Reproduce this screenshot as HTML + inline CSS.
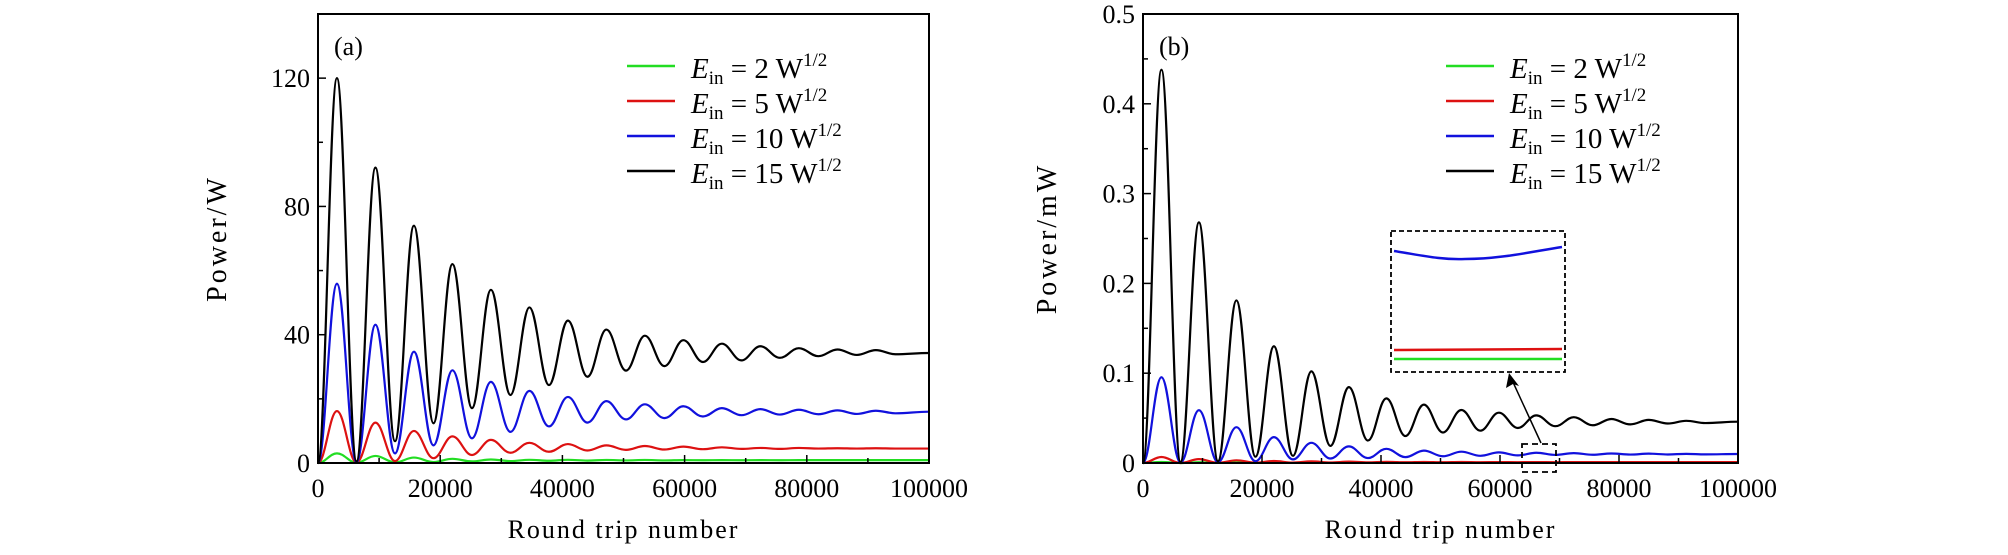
<!DOCTYPE html>
<html><head><meta charset="utf-8"><style>
html,body{margin:0;padding:0;background:#fff}
svg{display:block}
text{font-family:"Liberation Serif",serif;fill:#000}
</style></head><body>
<svg id="svg" width="2008" height="555" viewBox="0 0 2008 555" xmlns="http://www.w3.org/2000/svg"></svg>
<script>
// ---- shared x positions of extrema (round trip number) ----
const peakX = [3100,9400,15700,22000,28300,34600,40900,47200,53500,59800,66100,72400,78700,85000,91300];
const troughX = [6300,12600,18900,25200,31500,37800,44100,50400,56700,63000,69300,75600,81900,88200,94500];
const seriesNames = ["E2","E5","E10","E15"];
const seriesColors = ["#22dd22","#dd1111","#1111dd","#000000"];
const legendValues = ["2","5","10","15"];
// ---- panel (a) values in W ----
const aPeak15 = [120,92.1,74,62,54,48.5,44.4,41.6,39.7,38.3,37.2,36.4,35.8,35.4,35.2];
const aTrough15 = [0.5,6.8,12.4,17.1,21.2,24.3,26.9,28.8,30.2,31.5,32,32.8,33.3,33.7,33.9];
const aPeak10 = [55.9,43.1,34.7,28.9,25.3,22.5,20.6,19.3,18.3,17.7,17.1,16.8,16.6,16.4,16.3];
const aTrough10 = [0.2,3,5.5,7.7,9.7,11.4,12.6,13.6,14,14.5,14.9,15.1,15.2,15.3,15.5];
const aPeak5 = [16.2,12.6,10,8.3,7.2,6.3,5.9,5.5,5.3,5.1,4.9,4.7,4.7,4.6,4.6];
const aTrough5 = [0.2,0.6,1.5,2.5,3.2,3.5,3.9,4.1,4.2,4.3,4.4,4.4,4.5,4.5,4.5];
const aPeak2 = [3,2.2,1.7,1.3,1.1,1,1,0.95,0.95,0.9,0.9,0.9,0.9,0.9,0.9];
const aTrough2 = [0.1,0.2,0.3,0.5,0.6,0.7,0.75,0.8,0.8,0.85,0.85,0.85,0.9,0.9,0.9];
const aEnd = [0.9,4.5,16,34.3];
// ---- panel (b) values in mW ----
const bPeak15 = [0.438,0.268,0.181,0.130,0.102,0.0845,0.072,0.065,0.059,0.056,0.053,0.051,0.049,0.048,0.047];
const bTrough15 = [0.001,0.002,0.007,0.008,0.019,0.025,0.030,0.034,0.036,0.039,0.041,0.042,0.043,0.044,0.0445];
const bPeak10 = [0.0955,0.0588,0.0399,0.0288,0.0225,0.0185,0.0158,0.0138,0.0126,0.0118,0.0114,0.011,0.0106,0.0104,0.0102];
const bTrough10 = [0.0005,0.001,0.002,0.004,0.005,0.0055,0.0065,0.0075,0.008,0.0085,0.009,0.0092,0.0094,0.0095,0.0096];
const bPeak5 = [0.0067,0.0043,0.003,0.0022,0.0018,0.0015,0.0013,0.0012,0.0011,0.001,0.001,0.001,0.001,0.001,0.001];
const bTrough5 = [0,0.0002,0.0004,0.0005,0.0006,0.0007,0.0008,0.0008,0.0009,0.0009,0.0009,0.001,0.001,0.001,0.001];
const bPeak2 = [0.0012,0.0008,0.0006,0.0005,0.0004,0.0004,0.0003,0.0003,0.0003,0.0003,0.0003,0.0003,0.0003,0.0003,0.0003];
const bTrough2 = [0,0.0001,0.0001,0.0002,0.0002,0.0002,0.0002,0.0003,0.0003,0.0003,0.0003,0.0003,0.0003,0.0003,0.0003];
const bEnd = [0.0003,0.001,0.0100,0.046];
const xTicks = [0,20000,40000,60000,80000,100000];
const aYTicks = [0,40,80,120];
const bYTicks = ["0","0.1","0.2","0.3","0.4","0.5"];

const NS="http://www.w3.org/2000/svg";
const svg=document.getElementById('svg');
function mk(tag,attrs,parent){const e=document.createElementNS(NS,tag);for(const k in attrs)e.setAttribute(k,attrs[k]);(parent||svg).appendChild(e);return e;}

function panel(cfg){
  const g=mk('g',{});
  
  
  const L=cfg.L,R=cfg.R,T=cfg.T,B=cfg.B;
  const sx=v=>L+(v/100000)*(R-L);
  const sy=v=>B-(v/cfg.ymax)*(B-T);
  cfg.series.forEach((s,i)=>{
    const pts=[[0,0]];
    for(let k=0;k<s.peak.length;k++){pts.push([peakX[k],s.peak[k]]);pts.push([troughX[k],s.trough[k]]);}
    pts.push([100000,s.end]);
    let d=`M${sx(pts[0][0]).toFixed(2)},${sy(pts[0][1]).toFixed(2)}`;
    for(let k=1;k<pts.length;k++){
      const x0=sx(pts[k-1][0]),y0=sy(pts[k-1][1]),x1=sx(pts[k][0]),y1=sy(pts[k][1]);
      const dx=(x1-x0)/2.6;
      d+=` C${(x0+dx).toFixed(2)},${y0.toFixed(2)} ${(x1-dx).toFixed(2)},${y1.toFixed(2)} ${x1.toFixed(2)},${y1.toFixed(2)}`;
    }
    const p=mk('path',{d:d,fill:'none',stroke:seriesColors[i],'stroke-width':2.2},g);
    
    
  });
  const fr=mk('rect',{x:L,y:T,width:R-L,height:B-T,fill:'none',stroke:'#000','stroke-width':2},g);
  
  
  xTicks.forEach((t,i)=>{
    const x=sx(t);
    mk('line',{x1:x,y1:B,x2:x,y2:B-8,stroke:'#000','stroke-width':1.5},g);
    if(i<xTicks.length-1){const xm=sx(t+10000);mk('line',{x1:xm,y1:B,x2:xm,y2:B-5,stroke:'#000','stroke-width':1.5},g);}
    const tx=mk('text',{x:x,y:B+34,'font-size':26,'text-anchor':'middle'},g);
    tx.textContent=t;
    
    
  });
  cfg.yTicks.forEach((t,i)=>{
    const y=sy(parseFloat(t));
    mk('line',{x1:L,y1:y,x2:L+8,y2:y,stroke:'#000','stroke-width':1.5},g);
    const mv=parseFloat(t)+cfg.minor;
    if(mv<cfg.ymax){const ym=sy(mv);mk('line',{x1:L,y1:ym,x2:L+5,y2:ym,stroke:'#000','stroke-width':1.5},g);}
    const tx=mk('text',{x:L-8,y:y+9,'font-size':26,'text-anchor':'end'},g);
    tx.textContent=t;
    
    
  });
  const xl=mk('text',{x:(L+R)/2,y:538,'font-size':26,'text-anchor':'middle','letter-spacing':'2'},g);
  xl.textContent='Round trip number';
  
  
  const yl=mk('text',{x:0,y:0,'font-size':28,'text-anchor':'middle','letter-spacing':'3',transform:`translate(${cfg.ylx},${(T+B)/2}) rotate(-90)`},g);
  yl.textContent=cfg.ylabel;
  
  
  const pl=mk('text',{x:L+16,y:55,'font-size':26},g);
  pl.textContent=cfg.tag;
  
  
  const rows=[72,107,142,177];
  rows.forEach((ry,i)=>{
    const le=mk('g',{},g);
    
    
    mk('line',{x1:cfg.lgx,y1:ry-6,x2:cfg.lgx+48,y2:ry-6,stroke:seriesColors[i],'stroke-width':2.5},le);
    const t=mk('text',{x:cfg.lgx+64,y:ry+6,'font-size':29},le);
    t.innerHTML=`<tspan font-style="italic">E</tspan><tspan font-size="19" dy="6">in</tspan><tspan dy="-6"> = ${legendValues[i]}  W</tspan><tspan font-size="19" dy="-12">1/2</tspan>`;
  });
  return {g,sx,sy};
}

panel({name:'panel-a',L:318,R:929,T:14,B:463,ymax:140,minor:20,yTicks:aYTicks.map(String),ylabel:'Power/W',ylx:226,tag:'(a)',lgx:627,
  series:[{peak:aPeak2,trough:aTrough2,end:aEnd[0]},{peak:aPeak5,trough:aTrough5,end:aEnd[1]},{peak:aPeak10,trough:aTrough10,end:aEnd[2]},{peak:aPeak15,trough:aTrough15,end:aEnd[3]}]});
panel({name:'panel-b',L:1143,R:1738,T:14,B:463,ymax:0.5,minor:0.05,yTicks:bYTicks,ylabel:'Power/mW',ylx:1056,tag:'(b)',lgx:1446,
  series:[{peak:bPeak2,trough:bTrough2,end:bEnd[0]},{peak:bPeak5,trough:bTrough5,end:bEnd[1]},{peak:bPeak10,trough:bTrough10,end:bEnd[2]},{peak:bPeak15,trough:bTrough15,end:bEnd[3]}]});

const ins=mk('g',{});


mk('rect',{x:1391,y:231,width:174,height:141,fill:'#fff',stroke:'#000','stroke-width':1.8,'stroke-dasharray':'5,3'},ins);
mk('path',{d:'M1394,251 C1420,255 1440,260 1465,259 C1500,259 1530,252 1562,247',fill:'none',stroke:'#1111dd','stroke-width':2.5},ins);
mk('line',{x1:1394,y1:350,x2:1562,y2:349,stroke:'#dd1111','stroke-width':2.5},ins);
mk('line',{x1:1394,y1:359,x2:1562,y2:359,stroke:'#22dd22','stroke-width':2.5},ins);
const sb=mk('rect',{x:1522,y:444,width:34,height:28,fill:'none',stroke:'#000','stroke-width':1.8,'stroke-dasharray':'6,4'});


const ar=mk('g',{});


mk('line',{x1:1541,y1:443,x2:1512,y2:380,stroke:'#000','stroke-width':1.5},ar);
mk('path',{d:'M1509,373 L1506,388 L1513,384 L1519,386 Z',fill:'#000'},ar);
</script>
</body></html>
